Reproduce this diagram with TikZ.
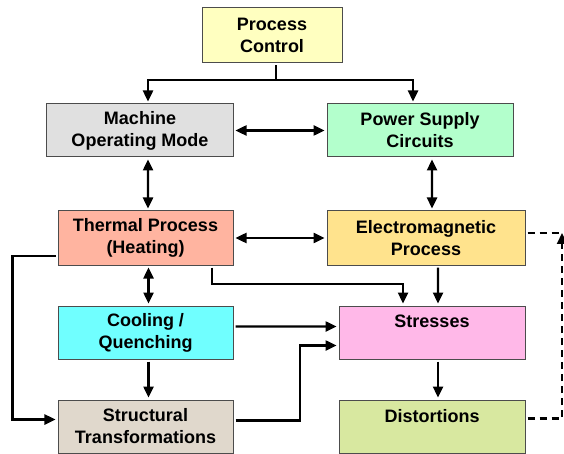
\documentclass[tikz,border=0pt]{standalone}
\usepackage{fontspec}
\setmainfont{Liberation Sans}
\usetikzlibrary{arrows.meta,positioning}
\definecolor{ctrlyellow}{RGB}{255,255,192}
\definecolor{modegray}{RGB}{224,224,224}
\definecolor{supplygreen}{RGB}{179,255,204}
\definecolor{heatsalmon}{RGB}{255,180,160}
\definecolor{emyellow}{RGB}{255,227,141}
\definecolor{coolcyan}{RGB}{112,255,255}
\definecolor{stresspink}{RGB}{255,184,232}
\definecolor{structbeige}{RGB}{224,216,204}
\definecolor{distgreen}{RGB}{216,232,160}

\begin{document}
\begin{tikzpicture}[>={Triangle[length=11bp,width=10bp]},x=1bp,y=-1bp,node distance=36bp]
  \tikzstyle{block}=[rectangle,draw=black!70,line width=1bp,minimum height=53bp,inner sep=0pt,outer sep=2.5bp,align=center,font=\fontsize{18bp}{22bp}\selectfont\bfseries]
  \tikzstyle{link}=[->,line width=2.4bp]
  \useasboundingbox (0,0) rectangle (564,454);
  \node[block,fill=ctrlyellow,minimum width=140bp,minimum height=55bp] (pc) at (272,35.5) {Process\\Control};
  \node[block,fill=modegray,minimum width=186bp] (mom) at (140,130.5) {Machine\\Operating Mode};
  \node[block,fill=supplygreen,minimum width=186bp] (psc) at (420,130.5) {Power Supply\\Circuits};
  \node[block,fill=heatsalmon,minimum width=175bp,minimum height=54bp] (thp) at (145.5,238) {Thermal Process\\(Heating)};
  \node[block,fill=emyellow,minimum width=198bp,minimum height=54bp] (emp) at (426,238) {Electromagnetic\\Process};
  \node[block,fill=coolcyan,minimum width=175bp,below=of thp] (coq) {Cooling /\\Quenching};
  \node[block,fill=structbeige,minimum width=175bp,below=of coq] (stt) {Structural\\Transformations};
  \node[block,fill=stresspink,minimum width=186bp] (str) at (432,332.5) {Stresses\\\phantom{X}};
  \node[block,fill=distgreen,minimum width=186bp,below=of str] (dis) {Distortions\\\phantom{X}};
  \draw[line width=2.4bp] ([xshift=4bp]pc.south) -- ++(0,14.5) coordinate (fork);
  \draw[link] (fork) -| ([xshift=8bp]mom.north);
  \draw[link] (fork) -| ([xshift=-7bp]psc.north);
  \draw[link,<->] (mom) -- (psc);
  \draw[link,<->] ([xshift=8bp]mom.south) -- ([xshift=2.5bp]thp.north);
  \draw[link,<->] ([xshift=12bp]psc.south) -- ([xshift=6bp]emp.north);
  \draw[link,<->] (thp) -- (emp);
  \draw[link,<->] ([xshift=3bp]thp.south) -- ([xshift=3bp]coq.north);
  \draw[link] ([yshift=-18bp]thp.west) -- ++(-43,0) |- ([yshift=7bp]stt.west);
  \draw[link] ([xshift=66.5bp]thp.south) -- ++(0,16.5) -| ([xshift=-29bp]str.north);
  \draw[link] ([xshift=12bp]emp.south) -- ([xshift=6bp]str.north);
  \draw[link] ([yshift=6bp]coq.east) -- ([yshift=6bp]str.west);
  \draw[link] ([yshift=6bp]stt.east) -- ++(64.5,0) |- ([yshift=-13bp]str.west);
  \draw[link] ([xshift=3bp]coq.south) -- ([xshift=3bp]stt.north);
  \draw[link] ([xshift=6bp]str.south) -- ([xshift=6bp]dis.north);
  % dashed feedback
  \coordinate (back) at (562,233);
  \draw[link,dash pattern=on 7bp off 5bp] ([yshift=8bp]dis.east) -| (back);
  \draw[line width=2.4bp,dash pattern=on 7bp off 5bp] (emp.east |- back) -- (back);
\end{tikzpicture}
\end{document}
